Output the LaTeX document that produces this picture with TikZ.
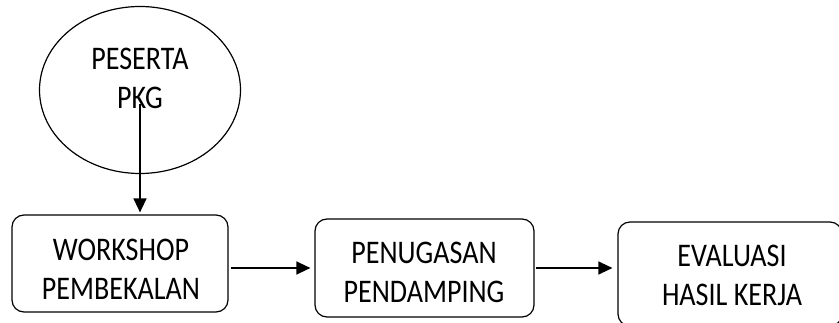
\documentclass[tikz,border=0pt]{standalone}
\usepackage{fontspec}
\setmainfont{Carlito}[FakeStretch=0.85]
\usetikzlibrary{shapes.geometric,arrows.meta}
\tikzset{
  boxstyle/.style={draw, line width=1.2pt, rounded corners=12pt, inner sep=0pt},
  lbl/.style={align=center, inner sep=0pt, font=\fontsize{33}{39}\selectfont},
  arr/.style={line width=1.3pt, -{Triangle[length=14pt,width=13pt]}}
}
\begin{document}
\begin{tikzpicture}[x=1pt,y=1pt]
\useasboundingbox (0,0) rectangle (839,-323);
\clip (0,0) rectangle (839,-323);
% ellipse
\node[draw, line width=1.2pt, ellipse, minimum width=201pt, minimum height=167pt, inner sep=0pt] (ell) at (140,-90) {};
\node[lbl] (t0) at (140,-78) {PESERTA\\PKG};
% boxes
\node[boxstyle, minimum width=216pt, minimum height=97pt] (b1) at (120,-263.5) {};
\node[boxstyle, minimum width=219pt, minimum height=98pt] (b2) at (424.5,-268) {};
\node[boxstyle, minimum width=224pt, minimum height=104pt] (b3) at (730,-274) {};
\node[lbl] (t1) at (121,-269.5) {WORKSHOP\\PEMBEKALAN};
\node[lbl] (t2) at (424,-272.5) {PENUGASAN\\PENDAMPING};
\node[lbl] (t3) at (732,-275) {EVALUASI\\HASIL KERJA};
% arrows
\coordinate (s) at (140,-104);
\draw[arr, shorten >=2pt] (s) -- (s |- b1.north);
\draw[arr, shorten <=2pt, shorten >=4pt] (b1.east |- b2.west) -- (b2.west);
\draw[arr, shorten <=1pt, shorten >=5pt] (b2.east) -- (b2.east -| b3.west);
\end{tikzpicture}
\end{document}
